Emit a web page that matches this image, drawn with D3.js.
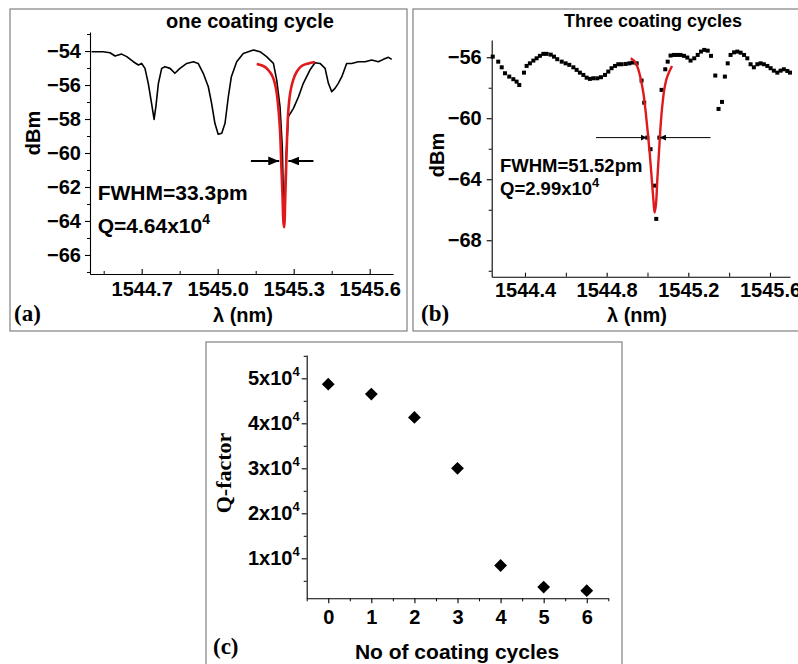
<!DOCTYPE html>
<html><head><meta charset="utf-8">
<script src="https://cdn.jsdelivr.net/npm/d3@7"></script>
<style>
body{margin:0;background:#fff}
svg{display:block}
text{font-family:"Liberation Sans",Arial,sans-serif;font-weight:bold;fill:#000}
</style>
</head><body><svg id="fig" width="798" height="664"></svg>
<script>
// ---------- Panel (a): one coating cycle ----------
const aWave = [1544.502,1544.548,1544.575,1544.595,1544.621,1544.641,1544.667,1544.687,1544.700,1544.713,1544.726,1544.739,1544.749,1544.756,1544.766,1544.779,1544.792,1544.812,1544.831,1544.851,1544.878,1544.904,1544.923,1544.943,1544.963,1544.976,1544.989,1545.002,1545.016,1545.029,1545.042,1545.054,1545.075,1545.101,1545.141,1545.167,1545.193,1545.220,1545.233,1545.246,1545.255,1545.262,1545.270,1545.279,1545.299,1545.319,1545.338,1545.364,1545.384,1545.404,1545.424,1545.437,1545.450,1545.463,1545.476,1545.490,1545.509,1545.529,1545.555,1545.582,1545.608,1545.634,1545.654,1545.674,1545.687];
const aPower = [-54.04,-54.04,-54.10,-54.29,-54.18,-54.33,-54.63,-54.82,-54.73,-55.02,-55.90,-57.08,-58.02,-57.27,-55.90,-55.02,-54.92,-55.02,-55.31,-55.02,-54.73,-54.63,-54.73,-55.31,-56.10,-57.08,-58.25,-58.90,-58.84,-58.25,-56.69,-55.51,-54.63,-54.14,-53.94,-54.04,-54.33,-54.73,-55.71,-57.27,-59.63,-64.33,-60.20,-57.86,-57.37,-56.69,-55.90,-55.12,-54.69,-54.73,-55.02,-55.90,-56.39,-56.20,-55.90,-55.51,-54.73,-54.73,-54.63,-54.63,-54.53,-54.63,-54.49,-54.37,-54.49];
const aFitWave = [1545.154,1545.180,1545.200,1545.217,1545.230,1545.239,1545.246,1545.251,1545.256,1545.260,1545.263,1545.266,1545.270,1545.274,1545.279,1545.287,1545.298,1545.312,1545.331,1545.358,1545.384];
const aFitPower = [-54.76,-54.88,-55.12,-55.51,-56.20,-57.27,-58.65,-60.61,-62.57,-64.14,-64.37,-62.96,-61.00,-59.04,-57.47,-56.39,-55.71,-55.22,-54.88,-54.73,-54.65];
const aXTicks = [1544.7,1545.0,1545.3,1545.6];
const aXMinor = [1544.55,1544.85,1545.15,1545.45];
const aYTicks = [-54,-56,-58,-60,-62,-64,-66];
const aYMinor = [-53,-55,-57,-59,-61,-63,-65,-67];
const aArrowY = -60.47, aArrowL = [1545.131,1545.243], aArrowR = [1545.378,1545.279];

// ---------- Panel (b): three coating cycles ----------
const bWave = [1544.242,1544.269,1544.286,1544.302,1544.323,1544.343,1544.359,1544.372,1544.395,1544.408,1544.424,1544.441,1544.457,1544.473,1544.490,1544.506,1544.526,1544.542,1544.558,1544.580,1544.599,1544.617,1544.637,1544.653,1544.669,1544.686,1544.702,1544.718,1544.735,1544.754,1544.772,1544.792,1544.808,1544.824,1544.841,1544.857,1544.873,1544.893,1544.911,1544.927,1544.947,1544.971,1544.984,1544.999,1545.015,1545.035,1545.043,1545.058,1545.069,1545.087,1545.099,1545.113,1545.130,1545.146,1545.162,1545.179,1545.195,1545.211,1545.229,1545.246,1545.262,1545.278,1545.295,1545.311,1545.332,1545.348,1545.365,1545.379,1545.393,1545.407,1545.424,1545.440,1545.456,1545.473,1545.489,1545.505,1545.521,1545.538,1545.554,1545.570,1545.587,1545.603,1545.619,1545.636,1545.652,1545.668,1545.685,1545.698];
const bPower = [-55.96,-56.29,-56.66,-57.05,-57.27,-57.44,-57.60,-57.82,-57.01,-56.57,-56.40,-56.22,-56.07,-55.91,-55.78,-55.78,-55.83,-55.96,-56.13,-56.29,-56.40,-56.50,-56.66,-56.83,-57.01,-57.16,-57.34,-57.42,-57.38,-57.38,-57.31,-57.16,-56.94,-56.72,-56.57,-56.46,-56.46,-56.44,-56.40,-56.35,-56.40,-57.53,-58.98,-61.27,-62.03,-64.42,-66.60,-61.27,-58.14,-56.79,-56.29,-55.89,-55.85,-55.85,-55.85,-55.91,-56.02,-56.22,-56.07,-55.85,-55.63,-55.52,-55.57,-55.91,-57.20,-59.39,-58.93,-57.27,-56.40,-55.85,-55.68,-55.63,-55.70,-55.85,-56.07,-56.46,-56.66,-56.46,-56.40,-56.46,-56.57,-56.72,-56.88,-57.01,-56.88,-56.79,-56.90,-57.01];
const bFitWave = [1544.918,1544.939,1544.955,1544.968,1544.980,1544.991,1545.001,1545.011,1545.020,1545.029,1545.035,1545.042,1545.048,1545.056,1545.064,1545.073,1545.082,1545.094,1545.107,1545.120];
const bFitPower = [-56.07,-56.29,-56.79,-57.49,-58.36,-59.57,-60.88,-62.30,-63.83,-65.36,-66.19,-65.58,-64.05,-62.30,-60.55,-59.13,-58.14,-57.38,-56.94,-56.57];
const bXTicks = [1544.4,1544.8,1545.2,1545.6];
const bXMinor = [1544.6,1545.0,1545.4];
const bYTicks = [-56,-60,-64,-68];
const bYMinor = [-58,-62,-66,-70];
const bArrowY = -61.27, bArrowL = [1544.748,1544.996], bArrowR = [1545.309,1545.061];

// ---------- Panel (c): Q-factor vs coating cycles ----------
const cCycles = [0,1,2,3,4,5,6];
const cQ = [48700,46500,41300,30000,8400,3600,2800];
const cXTicks = [0,1,2,3,4,5,6];
const cXMinor = [-0.5,0.5,1.5,2.5,3.5,4.5,5.5,6.5];
const cYTicks = [10000,20000,30000,40000,50000];
const cYMinor = [5000,15000,25000,35000,45000,55000];

const svg = d3.select("#fig");
const RED = "#e0191b";
const SERIF = "Liberation Serif, Times New Roman, serif";

function frame(x0,y0,x1,y1){
  svg.append("rect").attr("x",x0).attr("y",y0).attr("width",x1-x0).attr("height",y1-y0)
    .attr("fill","none").attr("stroke","#8a8a8a").attr("stroke-width",1.3);
}
frame(10,9,407,331);
frame(413,9,805,331);
frame(206,342,622,670);

function styleAxis(g, fs){
  g.selectAll(".domain").attr("stroke","#000").attr("stroke-width",1.1);
  g.selectAll(".tick line").attr("stroke","#000").attr("stroke-width",1.1);
  g.selectAll("text").attr("font-size",fs).attr("font-family","Liberation Sans, Arial, sans-serif").attr("font-weight","bold").attr("fill","#000");
}
function minor(g){ g.select(".domain").remove(); g.selectAll("line").attr("stroke","#000"); }

function arrowMarker(id, len, half){
  svg.append("defs").append("marker").attr("id",id)
    .attr("viewBox",`0 ${-half} ${len} ${2*half}`).attr("refX",len).attr("refY",0)
    .attr("markerUnits","userSpaceOnUse").attr("markerWidth",len).attr("markerHeight",2*half)
    .attr("orient","auto")
    .append("path").attr("d",`M0,${-half}L${len},0L0,${half}Z`).attr("fill","#000");
}
arrowMarker("arrA",11,4.5);
arrowMarker("arrB",6,3);

// ===== Panel (a) =====
{
  const x = d3.scaleLinear().domain([1544.496,1545.692]).range([90,393]);
  const y = d3.scaleLinear().domain([-67.12,-52.88]).range([274,32]);
  const gx = svg.append("g").attr("transform","translate(0,274)")
    .call(d3.axisBottom(x).tickValues(aXTicks).tickFormat(d3.format(".1f")).tickSizeInner(-5).tickSizeOuter(0).tickPadding(8));
  styleAxis(gx,20);
  svg.append("g").attr("transform","translate(0,274)")
    .call(d3.axisBottom(x).tickValues(aXMinor).tickFormat("").tickSizeInner(-3).tickSizeOuter(0)).call(minor);
  const gy = svg.append("g").attr("transform","translate(90,0)")
    .call(d3.axisLeft(y).tickValues(aYTicks).tickSizeInner(5).tickSizeOuter(0).tickPadding(4));
  styleAxis(gy,20);
  svg.append("g").attr("transform","translate(90,0)")
    .call(d3.axisLeft(y).tickValues(aYMinor).tickFormat("").tickSizeInner(3).tickSizeOuter(0)).call(minor);

  const line = d3.line().x(d=>x(d[0])).y(d=>y(d[1]));
  svg.append("path").datum(aWave.map((w,i)=>[w,aPower[i]])).attr("d",line)
    .attr("fill","none").attr("stroke","#000").attr("stroke-width",1.6).attr("stroke-linejoin","round");
  svg.append("path").datum(aFitWave.map((w,i)=>[w,aFitPower[i]])).attr("d",line.curve(d3.curveCatmullRom))
    .attr("fill","none").attr("stroke",RED).attr("stroke-width",2.6).attr("stroke-linejoin","round");

  [aArrowL,aArrowR].forEach(a=>svg.append("line").attr("x1",x(a[0])).attr("x2",x(a[1])).attr("y1",y(aArrowY)).attr("y2",y(aArrowY))
    .attr("stroke","#000").attr("stroke-width",2).attr("marker-end","url(#arrA)"));

  svg.append("text").attr("x",250).attr("y",28).attr("text-anchor","middle").attr("font-size",20).text("one coating cycle");
  svg.append("text").attr("transform","translate(33,133) rotate(-90)").attr("text-anchor","middle").attr("dy","0.35em").attr("font-size",20).text("dBm");
  svg.append("text").attr("x",97.7).attr("y",200).attr("font-size",21).text("FWHM=33.3pm");
  const q = svg.append("text").attr("x",97.7).attr("y",233).attr("font-size",21);
  q.append("tspan").text("Q=4.64x10");
  q.append("tspan").attr("font-size",14).attr("dy",-9).text("4");
  svg.append("text").attr("x",14).attr("y",321).attr("font-size",23).style("font-family",SERIF).text("(a)");
  svg.append("text").attr("x",243).attr("y",322).attr("text-anchor","middle").attr("font-size",20).text("λ (nm)");
}

// ===== Panel (b) =====
{
  const x = d3.scaleLinear().domain([1544.237,1545.698]).range([491.7,790]);
  const y = d3.scaleLinear().domain([-70.39,-54.87]).range([276.7,40]);
  const gx = svg.append("g").attr("transform","translate(0,276.7)")
    .call(d3.axisBottom(x).tickValues(bXTicks).tickFormat(d3.format(".1f")).tickSizeInner(-4).tickSizeOuter(0).tickPadding(6));
  styleAxis(gx,20);
  svg.append("g").attr("transform","translate(0,276.7)")
    .call(d3.axisBottom(x).tickValues(bXMinor).tickFormat("").tickSizeInner(-4).tickSizeOuter(0)).call(minor);
  const gy = svg.append("g").attr("transform","translate(491.7,0)")
    .call(d3.axisLeft(y).tickValues(bYTicks).tickSizeInner(5).tickSizeOuter(0).tickPadding(5));
  styleAxis(gy,20);
  svg.append("g").attr("transform","translate(491.7,0)")
    .call(d3.axisLeft(y).tickValues(bYMinor).tickFormat("").tickSizeInner(3).tickSizeOuter(0)).call(minor);

  svg.append("g").selectAll("rect").data(bWave.map((w,i)=>[w,bPower[i]])).join("rect")
    .attr("x",d=>x(d[0])-2).attr("y",d=>y(d[1])-2).attr("width",4).attr("height",4).attr("fill","#000");

  const line = d3.line().x(d=>x(d[0])).y(d=>y(d[1])).curve(d3.curveCatmullRom);
  svg.append("path").datum(bFitWave.map((w,i)=>[w,bFitPower[i]])).attr("d",line)
    .attr("fill","none").attr("stroke",RED).attr("stroke-width",2.4).attr("stroke-linejoin","round");

  [bArrowL,bArrowR].forEach(a=>svg.append("line").attr("x1",x(a[0])).attr("x2",x(a[1])).attr("y1",y(bArrowY)).attr("y2",y(bArrowY))
    .attr("stroke","#000").attr("stroke-width",1).attr("marker-end","url(#arrB)"));

  svg.append("text").attr("x",653).attr("y",27).attr("text-anchor","middle").attr("font-size",18).text("Three coating cycles");
  svg.append("text").attr("transform","translate(437,155) rotate(-90)").attr("text-anchor","middle").attr("dy","0.35em").attr("font-size",20).text("dBm");
  svg.append("text").attr("x",500).attr("y",171.7).attr("font-size",18.5).text("FWHM=51.52pm");
  const q = svg.append("text").attr("x",500).attr("y",195).attr("font-size",18.5);
  q.append("tspan").text("Q=2.99x10");
  q.append("tspan").attr("font-size",13).attr("dy",-8).text("4");
  svg.append("text").attr("x",421).attr("y",321).attr("font-size",23).style("font-family",SERIF).text("(b)");
  svg.append("text").attr("x",637).attr("y",322).attr("text-anchor","middle").attr("font-size",20).text("λ (nm)");
}

// ===== Panel (c) =====
{
  const x = d3.scaleLinear().domain([-0.5,6.5]).range([306.7,608.3]);
  const y = d3.scaleLinear().domain([1111,55180]).range([598.3,355]);
  const gx = svg.append("g").attr("transform","translate(0,598.3)")
    .call(d3.axisBottom(x).tickValues(cXTicks).tickFormat(d3.format("d")).tickSizeInner(5).tickSizeOuter(0).tickPadding(7));
  styleAxis(gx,20);
  svg.append("g").attr("transform","translate(0,598.3)")
    .call(d3.axisBottom(x).tickValues(cXMinor).tickFormat("").tickSizeInner(3).tickSizeOuter(0)).call(minor);
  const gy = svg.append("g").attr("transform","translate(306.7,0)")
    .call(d3.axisLeft(y).tickValues(cYTicks).tickFormat(d=>"").tickSizeInner(5).tickSizeOuter(0).tickPadding(2));
  styleAxis(gy,20);
  gy.selectAll(".tick text").each(function(d){
    const t = d3.select(this);
    t.append("tspan").text(d3.format("d")(d/10000)+"x10");
    t.append("tspan").attr("font-size",13).attr("dy",-9).text("4");
  });
  svg.append("g").attr("transform","translate(306.7,0)")
    .call(d3.axisLeft(y).tickValues(cYMinor).tickFormat("").tickSizeInner(3).tickSizeOuter(0)).call(minor);

  svg.append("g").selectAll("path").data(cCycles.map((c,i)=>[c,cQ[i]])).join("path")
    .attr("d",d3.symbol(d3.symbolSquare,82))
    .attr("transform",d=>`translate(${x(d[0])},${y(d[1])}) rotate(45)`).attr("fill","#000");

  svg.append("text").attr("transform","translate(223,473) rotate(-90)").attr("text-anchor","middle").attr("dy","0.35em")
    .attr("font-size",22).style("font-family",SERIF).text("Q-factor");
  svg.append("text").attr("x",213).attr("y",654).attr("font-size",23).style("font-family",SERIF).text("(c)");
  svg.append("text").attr("x",457).attr("y",659).attr("text-anchor","middle").attr("font-size",21).text("No of coating cycles");
}
</script></body></html>
